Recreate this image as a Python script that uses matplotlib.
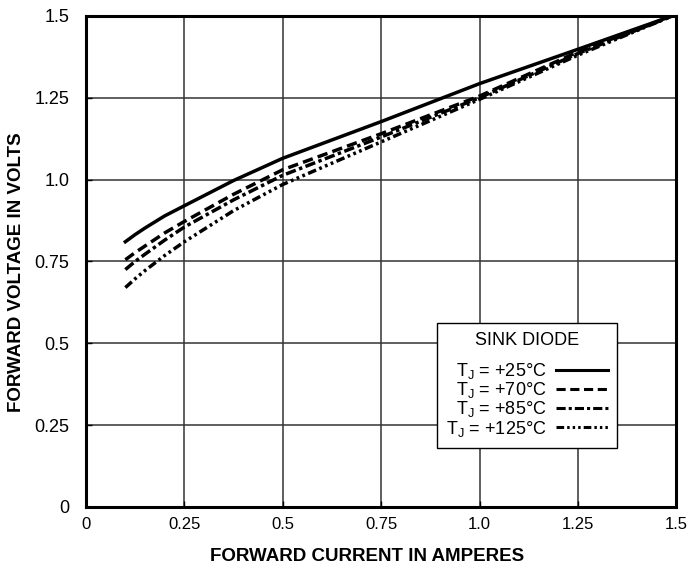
import matplotlib.pyplot as plt

# Forward current (A) and forward voltage (V)
current = [0.1, 0.125, 0.15, 0.2, 0.25, 0.375, 0.5, 0.75, 1.0, 1.25, 1.49]
v_25c = [0.81, 0.832, 0.852, 0.889, 0.92, 0.997, 1.065, 1.177, 1.293, 1.398, 1.5]
v_70c = [0.755, 0.777, 0.797, 0.837, 0.872, 0.955, 1.03, 1.14, 1.255, 1.39, 1.5]
v_85c = [0.725, 0.75, 0.772, 0.815, 0.855, 0.938, 1.013, 1.13, 1.25, 1.385, 1.5]
v_125c = [0.67, 0.697, 0.722, 0.768, 0.81, 0.905, 0.985, 1.115, 1.245, 1.38, 1.5]

x_ticks = [0, 0.25, 0.5, 0.75, 1.0, 1.25, 1.5]
x_labels = ['0', '0.25', '0.5', '0.75', '1.0', '1.25', '1.5']
y_ticks = [0, 0.25, 0.5, 0.75, 1.0, 1.25, 1.5]
y_labels = ['0', '0.25', '0.5', '0.75', '1.0', '1.25', '1.5']

series = [
    (v_25c, r'T$_\mathregular{J}$ = +25°C', '-'),
    (v_70c, r'T$_\mathregular{J}$ = +70°C', (0, (3, 1.5))),
    (v_85c, r'T$_\mathregular{J}$ = +85°C', (0, (3, 1, 1, 1))),
    (v_125c, r'T$_\mathregular{J}$ = +125°C', (0, (2.5, 1, 0.8, 1, 0.8, 1, 0.8, 1))),
]

plt.rcParams['font.family'] = ['Liberation Sans', 'DejaVu Sans']
plt.rcParams['mathtext.fontset'] = 'custom'
plt.rcParams['mathtext.rm'] = 'Liberation Sans'

fig = plt.figure(figsize=(6.88, 5.67), dpi=100)
ax = fig.add_axes([0.125, 0.106, 0.858, 0.866])

for v, label, ls in series:
    ax.plot(current, v, color='black', lw=2.5, linestyle=ls, label=label)

ax.set_xlim(0, 1.5)
ax.set_ylim(0, 1.5)
ax.set_xticks(x_ticks)
ax.set_xticklabels(x_labels, fontsize=12)
ax.set_yticks(y_ticks)
ax.set_yticklabels(y_labels, fontsize=13)
ax.tick_params(axis='x', direction='in', length=4, width=1, pad=7)
ax.tick_params(axis='y', direction='in', length=4, width=1, pad=12)
ax.grid(True, color='#333333', lw=1.1)
for s in ax.spines.values():
    s.set_linewidth(2.2)

ax.set_xlabel('FORWARD CURRENT IN AMPERES', fontweight='bold', fontsize=13.5)
ax.xaxis.set_label_coords(0.476, -0.084)
ax.set_ylabel('FORWARD VOLTAGE IN VOLTS', fontweight='bold', fontsize=13.5)
ax.yaxis.set_label_coords(-0.103, 0.477)

leg = ax.legend(loc='upper left', bbox_to_anchor=(0.595, 0.375),
                markerfirst=False, title='SINK DIODE',
                fontsize=13, title_fontsize=13, handlelength=2.9,
                labelspacing=-0.05, borderpad=0.5, fancybox=False,
                framealpha=1, edgecolor='black', handletextpad=0.5,
                borderaxespad=0)
leg.get_frame().set_linewidth(1.0)
leg._legend_box.sep = 9
for line in leg.get_lines():
    line.set_linewidth(2.2)

fig.savefig('out.png', dpi=100, facecolor='white')
